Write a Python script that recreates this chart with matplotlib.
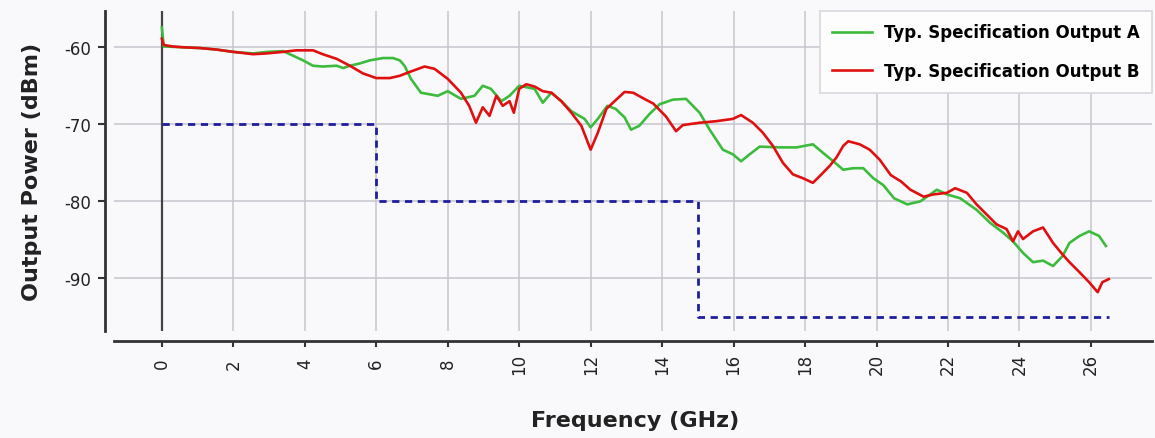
import matplotlib
matplotlib.use("Agg")
import matplotlib.pyplot as plt

plt.rcParams["axes.unicode_minus"] = False

# spec mask (dBm) per frequency band
spec_freq = [0, 6, 15, 26.5]
spec_level = [-70, -80, -95, -95]

# typ. output A (green)
freq_a = [0.0, 0.05, 0.59, 1.06, 1.53, 2.0, 2.55, 2.93, 3.39, 3.58, 3.95, 4.23, 4.5,
          4.89, 5.08, 5.26, 5.54, 5.82, 6.19, 6.47, 6.66, 6.79, 6.97, 7.25, 7.72, 8.0,
          8.37, 8.75, 8.98, 9.21, 9.5, 9.73, 10.0, 10.43, 10.66, 10.9, 11.18, 11.46,
          11.83, 12.0, 12.2, 12.47, 12.7, 12.95, 13.13, 13.36, 13.64, 13.93, 14.3,
          14.67, 15.05, 15.33, 15.7, 15.98, 16.21, 16.45, 16.73, 17.29, 17.76, 18.22,
          18.5, 18.79, 19.07, 19.35, 19.63, 19.91, 20.19, 20.49, 20.86, 21.23, 21.69,
          21.97, 22.34, 22.8, 23.18, 23.55, 23.82, 24.1, 24.38, 24.66, 24.94, 25.21,
          25.4, 25.68, 25.95, 26.23, 26.42]
out_a = [-57.4, -59.9, -60.0, -60.1, -60.3, -60.6, -60.8, -60.6, -60.5, -60.9, -61.7,
         -62.4, -62.5, -62.4, -62.7, -62.4, -62.1, -61.7, -61.4, -61.4, -61.7, -62.4,
         -64.1, -65.9, -66.3, -65.7, -66.7, -66.3, -65.0, -65.4, -67.0, -66.3, -65.0,
         -65.4, -67.2, -65.9, -67.0, -68.3, -69.3, -70.4, -69.3, -67.6, -68.0, -69.1,
         -70.7, -70.2, -68.7, -67.4, -66.8, -66.7, -68.5, -70.7, -73.3, -73.9, -74.8,
         -73.9, -72.9, -73.0, -73.0, -72.6, -73.7, -74.8, -75.9, -75.7, -75.7, -77.0,
         -77.9, -79.6, -80.4, -80.0, -78.5, -79.1, -79.6, -81.1, -82.8, -84.1, -85.2,
         -86.7, -87.9, -87.7, -88.4, -87.1, -85.4, -84.5, -83.9, -84.5, -85.8]

# typ. output B (red)
freq_b = [0.0, 0.05, 0.3, 0.59, 1.06, 1.53, 2.0, 2.55, 2.93, 3.39, 3.76, 4.23, 4.5,
          4.89, 5.26, 5.63, 6.0, 6.38, 6.66, 6.88, 7.35, 7.63, 8.0, 8.37, 8.6, 8.79,
          8.98, 9.17, 9.36, 9.54, 9.73, 9.85, 10.0, 10.2, 10.43, 10.66, 10.9, 11.18,
          11.46, 11.74, 12.0, 12.2, 12.44, 12.67, 12.95, 13.19, 13.5, 13.75, 14.11,
          14.39, 14.58, 15.05, 15.51, 15.98, 16.21, 16.54, 16.82, 17.1, 17.38, 17.66,
          17.94, 18.22, 18.46, 18.69, 18.88, 19.07, 19.21, 19.53, 19.81, 20.09, 20.4,
          20.68, 20.95, 21.32, 21.6, 21.97, 22.2, 22.53, 22.8, 23.08, 23.36, 23.64,
          23.82, 23.96, 24.1, 24.38, 24.66, 24.94, 25.17, 25.4, 25.68, 25.95, 26.19,
          26.32, 26.5]
out_b = [-58.9, -59.7, -59.9, -60.0, -60.1, -60.3, -60.6, -60.9, -60.8, -60.6, -60.4,
         -60.4, -60.9, -61.5, -62.4, -63.4, -64.0, -64.0, -63.7, -63.3, -62.5, -62.8,
         -64.1, -65.9, -67.6, -69.8, -67.8, -68.9, -66.3, -67.6, -67.0, -68.5, -65.4,
         -64.8, -65.1, -65.7, -65.9, -67.0, -68.5, -70.2, -73.3, -71.1, -68.0, -67.0,
         -65.8, -65.9, -66.7, -67.3, -69.0, -70.9, -70.1, -69.8, -69.6, -69.3, -68.8,
         -69.8, -71.1, -72.8, -75.0, -76.5, -77.0, -77.6, -76.5, -75.4, -74.3, -72.8,
         -72.2, -72.6, -73.3, -74.6, -76.6, -77.4, -78.5, -79.4, -79.1, -78.9, -78.3,
         -78.9, -80.4, -81.7, -83.0, -83.6, -85.2, -83.9, -84.9, -83.9, -83.4, -85.4,
         -86.7, -87.9, -89.2, -90.5, -91.8, -90.5, -90.1]

xticks = list(range(0, 27, 2))
yticks = [-90, -80, -70, -60]

bg = "#f9f9fc"
fig = plt.figure(figsize=(11.55, 4.39), dpi=100, facecolor=bg)
ax = fig.add_axes([0.0987, 0.2437, 0.8987, 0.729], facecolor=bg)

ax.plot(spec_freq, spec_level, drawstyle="steps-post", color="#1f1f9e",
        lw=2.0, dashes=(2.6, 2.0), zorder=3)
ax.plot(freq_a, out_a, color="#3cbb3c", lw=1.9, label="Typ. Specification Output A", zorder=4)
ax.plot(freq_b, out_b, color="#e01010", lw=1.9, label="Typ. Specification Output B", zorder=5)
ax.axvline(0, color="#444444", lw=1.6, zorder=2)

ax.set_xlim(-1.34, 27.71)
ax.set_ylim(-96.84, -55.29)
ax.set_xticks(xticks)
ax.set_yticks(yticks)
ax.grid(True, color="#c6c6cc", lw=1.1)
ax.set_axisbelow(True)

for side in ("top", "right"):
    ax.spines[side].set_visible(False)
ax.spines["left"].set_position(("outward", 6.5))
ax.spines["bottom"].set_position(("outward", 7.2))
for side in ("left", "bottom"):
    ax.spines[side].set_color("#333333")
    ax.spines[side].set_linewidth(2.0)

ax.tick_params(axis="y", length=5, width=1.5, color="#333333", pad=5,
               labelsize=12, labelcolor="#222222")
ax.tick_params(axis="x", length=4, width=1.5, color="#333333", pad=12,
               labelsize=12, labelcolor="#222222", labelrotation=90)
for lab in ax.get_xticklabels():
    lab.set_va("center")

ax.set_xlabel("Frequency (GHz)", fontsize=16, fontweight="bold", color="#222222")
ax.set_ylabel("Output Power (dBm)", fontsize=16, fontweight="bold", color="#222222")
ax.xaxis.set_label_coords(0.502, -0.247)
ax.yaxis.set_label_coords(-0.069, 0.5)

leg = ax.legend(loc="upper right", borderaxespad=0,
                prop={"weight": "bold", "size": 12}, frameon=True, fancybox=False,
                handlelength=2.4, labelspacing=1.25, borderpad=0.75,
                handletextpad=0.7)
leg.get_frame().set_facecolor("#fdfdfd")
leg.get_frame().set_edgecolor("#d8d8dc")
leg.get_frame().set_linewidth(1.2)
leg.get_frame().set_alpha(1)

fig.savefig("out.png", dpi=100, facecolor=bg)
